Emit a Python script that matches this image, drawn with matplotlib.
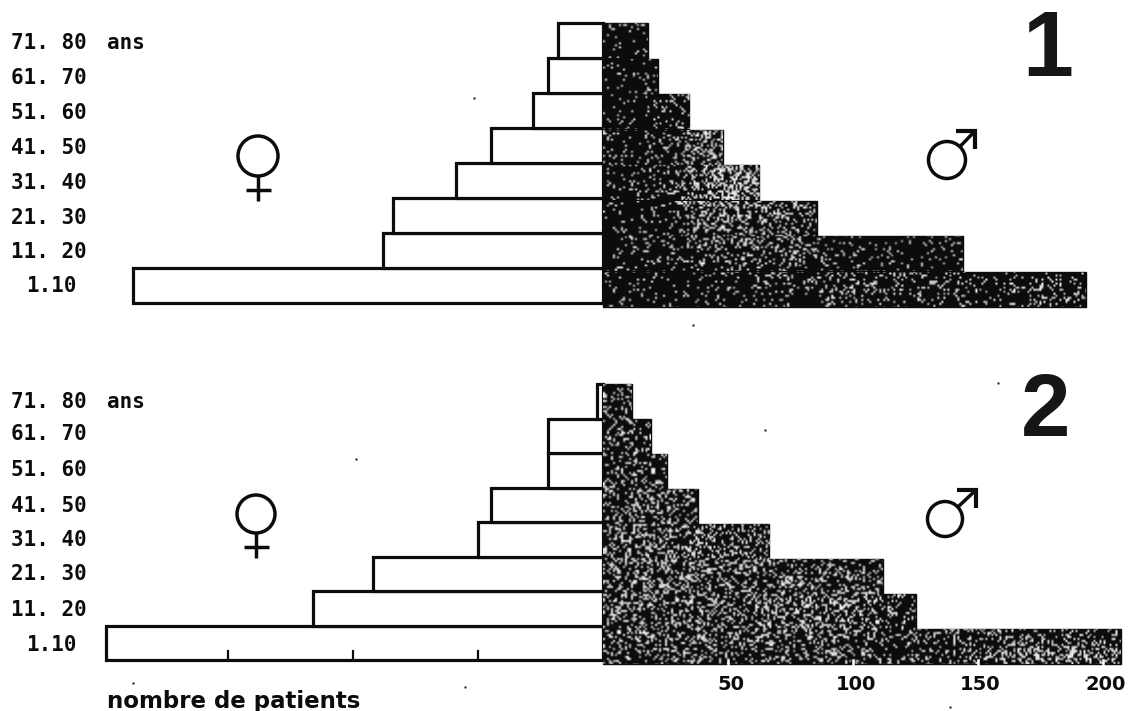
import numpy as np
import matplotlib
matplotlib.use("Agg")
import matplotlib.pyplot as plt
from matplotlib.patches import Circle

W, H = 1131, 711
age_labels = ["1.10", "11. 20", "21. 30", "31. 40", "41. 50", "51. 60", "61. 70", "71. 80"]
# patients per age band, read against the 50..200 scale of the lower axis
women_1 = [188, 88, 84, 59, 45, 28, 22, 18]
men_1 = [193, 144, 85.5, 62.5, 48, 34.5, 22, 18]
women_2 = [199, 116, 92, 50, 45, 22, 22, 2.5]
men_2 = [207, 125, 112, 66.5, 38, 25.5, 19, 11.5]
tick_values = [50, 100, 150, 200]
tick_labels = ["50", "100", "150", "200"]
left_ticks = [-50, -100, -150]

# layout in pixels
PX_PER_UNIT = 2.5
ZERO_PX = 603
fig = plt.figure(figsize=(W / 100, H / 100), dpi=100)
ax = fig.add_axes([0, 0, 1, 1])
xlim = (-ZERO_PX / PX_PER_UNIT, (W - ZERO_PX) / PX_PER_UNIT)
ax.axis("off")
deco = fig.add_axes([0, 0, 1, 1], zorder=5)
deco.set_xlim(0, W)
deco.set_ylim(H, 0)
deco.axis("off")
deco.patch.set_alpha(0)

MONO = "DejaVu Sans Mono"
INK = "#0c0c0c"
rng = np.random.default_rng(3)


def speckle_texture(y0, y1, base, spots):
    """Print-grain overlay: white specks, clipped to the bars below."""
    step = 2
    xs = np.arange(ZERO_PX, W, step)
    ys = np.arange(y0, y1, step)
    gx, gy = np.meshgrid(xs, ys)
    dens = np.full(gx.shape, base, dtype=float)
    for sx, sy, rx, ry, amp in spots:
        dens += amp * np.exp(-((gx - sx) / rx) ** 2 - ((gy - sy) / ry) ** 2)
    img = np.zeros(gx.shape + (4,))
    mask = rng.random(gx.shape) < dens
    img[..., :3] = 1
    img[..., 3] = mask * rng.uniform(0.65, 1, gx.shape)
    return img, xs, ys


def panel(women, men, w_base, w_step, m_base, m_step, lab_y, base, spots):
    img, xs, ys = speckle_texture(m_base - 8 * m_step - 2, m_base + 2, base, spots)
    extent = [0, (xs[-1] + 2 - ZERO_PX) / PX_PER_UNIT, ys[-1] + 2, ys[0]]
    for i, (a, b) in enumerate(zip(women, men)):
        ax.barh(w_base - (i + 0.5) * w_step, -a, height=w_step, color="white",
                edgecolor=INK, linewidth=2.3, zorder=2)
        bars = ax.barh(m_base - (i + 0.5) * m_step, b, height=m_step, color=INK,
                       edgecolor=INK, linewidth=1, zorder=2)
        im = ax.imshow(img, extent=extent, aspect="auto", zorder=3, interpolation="bilinear")
        im.set_clip_path(bars[0])
    for y, t in zip(lab_y, age_labels):
        x = 26 if t == "1.10" else 11
        deco.text(x, y, t, fontsize=15, fontweight="bold", va="center", ha="left",
                  family=MONO, color=INK)
    deco.text(107, lab_y[-1], "ans", fontsize=15, fontweight="bold", va="center", ha="left",
              family=MONO, color=INK)


panel(women_1, men_1, 303, 35, 307, 35.5,
      [286, 252, 218, 183, 148, 113, 78, 43], 0.08,
      [(725, 175, 50, 65, 0.42), (790, 230, 35, 35, 0.18), (1050, 292, 40, 12, 0.2), (850, 285, 80, 15, 0.12)])
panel(women_2, men_2, 660, 34.5, 664, 35,
      [645, 610, 574, 540, 506, 470, 434, 402], 0.18,
      [(660, 570, 70, 70, 0.18), (800, 610, 80, 35, 0.18), (1050, 650, 60, 14, 0.3), (750, 550, 25, 18, 0.12)])
ax.set_xlim(*xlim)
ax.set_ylim(H, 0)

# axis marks and labels
for t in left_ticks:
    ax.plot([t, t], [651, 660], color=INK, lw=1.6, zorder=4)
for t, l in zip(tick_values, tick_labels):
    ax.plot([t, t], [660, 665], color="white", lw=1.8, zorder=4)
    ax.text(t + 1, 685, l, fontsize=14, fontweight="bold", ha="center", va="center",
            family="DejaVu Sans", color=INK)
deco.text(107, 708, "nombre de patients", fontsize=16.5, fontweight="bold", ha="left",
          va="baseline", family="DejaVu Sans", color=INK)

# panel numbers
for x, y, s, size in ((1048, 76, "1", 66), (1046, 436, "2", 64)):
    deco.text(x, y, s, fontsize=size, fontweight="bold", ha="center", va="baseline",
              color="#161616", family=["Liberation Sans Narrow", "Liberation Sans"])


# sex symbols, drawn as pen strokes
def venus(cx, cy, r):
    deco.add_patch(Circle((cx, cy), r, fill=False, ec=INK, lw=2.5))
    deco.plot([cx, cx], [cy + r, cy + r + 25], color=INK, lw=2.5, solid_capstyle="butt")
    deco.plot([cx - 12, cx + 13], [cy + r + 14, cy + r + 14], color=INK, lw=2.5, solid_capstyle="butt")


def mars(cx, cy, r, tipx, tipy):
    deco.add_patch(Circle((cx, cy), r, fill=False, ec=INK, lw=2.5))
    d = np.array([tipx - cx, tipy - cy], dtype=float)
    d /= np.hypot(*d)
    deco.plot([cx + r * d[0], tipx], [cy + r * d[1], tipy], color=INK, lw=2.5, solid_capstyle="butt")
    deco.plot([tipx - 19, tipx, tipx], [tipy, tipy, tipy + 18], color=INK, lw=3,
              solid_joinstyle="miter", solid_capstyle="butt")


venus(258, 156, 20)
venus(256, 514, 19)
mars(947, 160, 18.5, 975, 131)
mars(945, 519, 17.5, 976, 490)

# stray print dots on the scanned page
dots_x = [133, 356, 465, 765, 693, 998, 950, 1086, 474]
dots_y = [683, 459, 687, 430, 325, 383, 707, 680, 98]
deco.scatter(dots_x, dots_y, s=3, color="#333333", linewidths=0)
deco.set_xlim(0, W)
deco.set_ylim(H, 0)

fig.savefig("out.png", dpi=100, facecolor="white")
